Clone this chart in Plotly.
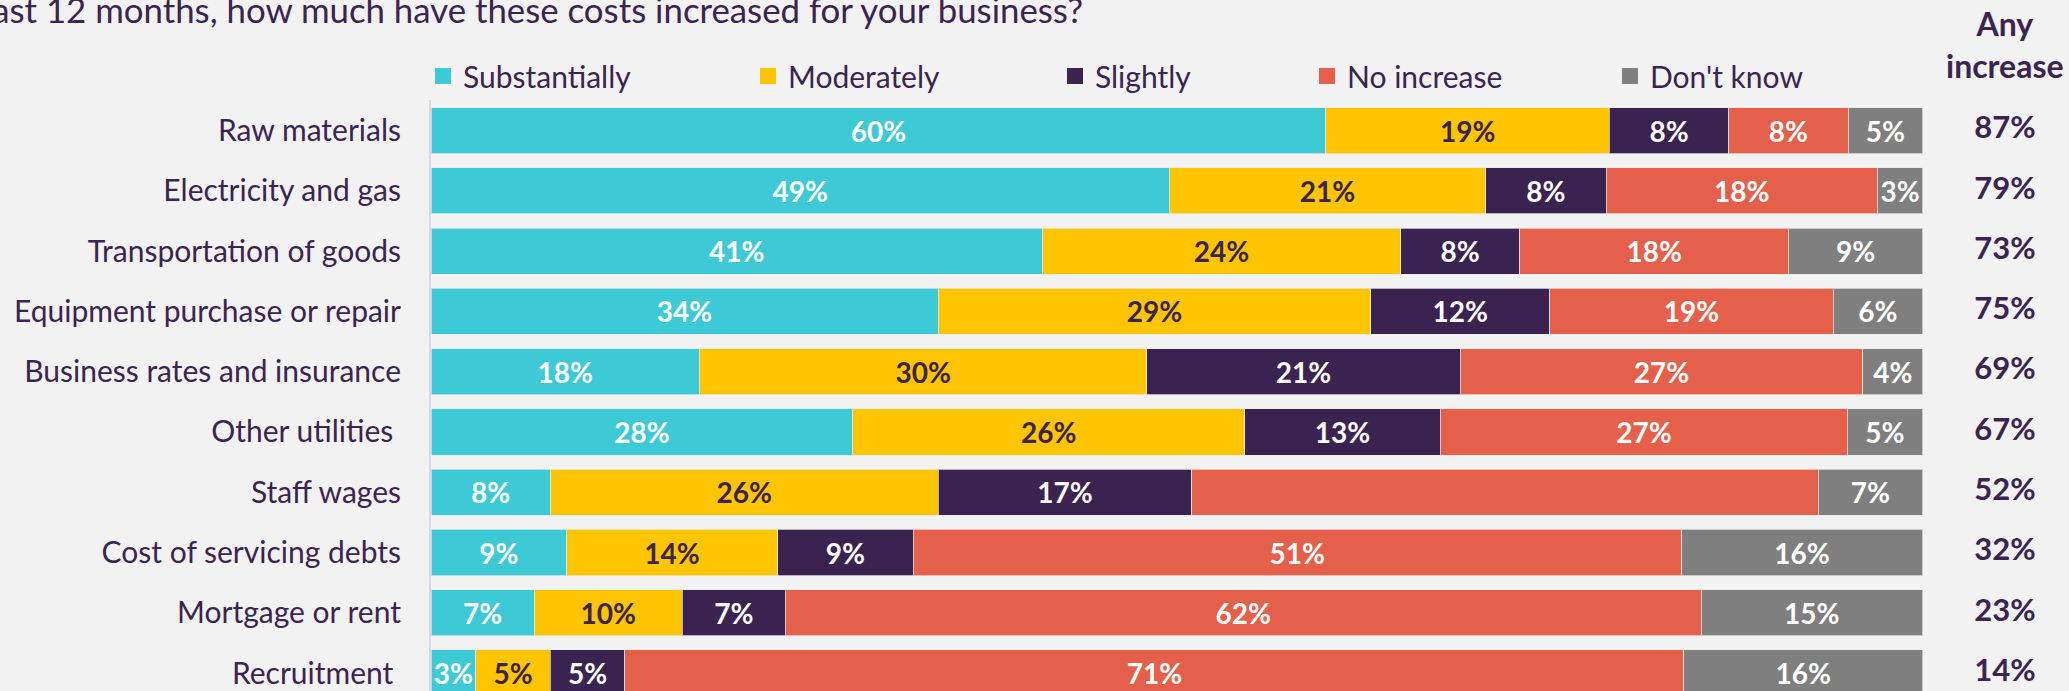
import plotly.graph_objects as go

# ---------------- data ----------------
categories = ["Raw materials", "Electricity and gas", "Transportation of goods",
              "Equipment purchase or repair", "Business rates and insurance",
              "Other utilities\u00a0", "Staff wages", "Cost of servicing debts",
              "Mortgage or rent", "Recruitment\u00a0"]
substantially = [60, 49, 41, 34, 18, 28, 8, 9, 7, 3]
moderately = [19, 21, 24, 29, 30, 26, 26, 14, 10, 5]
slightly = [8, 8, 8, 12, 21, 13, 17, 9, 7, 5]
no_increase = [8, 18, 18, 19, 27, 27, 42, 51, 62, 71]
dont_know = [5, 3, 9, 6, 4, 5, 7, 16, 15, 16]
any_increase = [87, 79, 73, 75, 69, 67, 52, 32, 23, 14]
series_names = ["Substantially", "Moderately", "Slightly", "No increase", "Don't know"]
unlabelled = {("No increase", "Staff wages")}  # segment shown without a value label
title_text = "In the last 12 months, how much have these costs increased for your business?"

# ---------------- style ----------------
FONT = "Lato"
PURPLE_TXT = "#3b2450"
BG = "#f2f2f2"
colors = ["#3ec9d6", "#ffc500", "#3a2350", "#e5604a", "#7f7f7f"]
label_colors = ["white", PURPLE_TXT, "white", "white", "white"]

W, H = 2069, 691
ML, MT = 431, 100
PLOT_W, PLOT_H = W - ML, H - MT
X_FULL_PX = 1922.6 - ML          # pixel width of a 100% bar
X_MAX = PLOT_W / X_FULL_PX * 100
ANY_X = (2005 - ML) / X_FULL_PX * 100
Y_RANGE = [9.298, -0.508]

series = [substantially, moderately, slightly, no_increase, dont_know]
totals = [sum(s[i] for s in series) for i in range(len(categories))]

fig = go.Figure()
for name, vals, col, tcol in zip(series_names, series, colors, label_colors):
    share = [v / t * 100 for v, t in zip(vals, totals)]
    texts = ["" if (name, c) in unlabelled else f"{v}%" for v, c in zip(vals, categories)]
    fig.add_trace(go.Bar(
        y=categories, x=share, orientation="h", name=name,
        marker=dict(color=col, line=dict(color="rgba(235,235,235,0.7)", width=1)),
        width=0.765, text=texts, textposition="inside", insidetextanchor="middle",
        textangle=0, constraintext="none", cliponaxis=False,
        textfont=dict(family=FONT, size=28, color=tcol, weight="bold"),
        showlegend=False, hoverinfo="skip",
    ))

# any-increase column
fig.add_trace(go.Scatter(
    y=categories, x=[ANY_X] * len(categories), mode="text",
    text=[f"{v}%" for v in any_increase], cliponaxis=False,
    textfont=dict(family=FONT, size=31, color=PURPLE_TXT, weight="bold"),
    showlegend=False, hoverinfo="skip",
))

# legend entries (one legend each, to place them like the original)
legend_centers_px = [443, 768, 1075, 1327, 1630]
layout_legends = {}
for i, (name, col, cx) in enumerate(zip(series_names, colors, legend_centers_px)):
    key = "legend" if i == 0 else f"legend{i+1}"
    fig.add_trace(go.Scatter(x=[None], y=[None], mode="markers", name=name,
                             marker=dict(symbol="square", size=18, color=col),
                             legend=key, showlegend=True))
    layout_legends[key] = dict(
        x=(cx - 20 - ML) / PLOT_W, xanchor="left",
        y=1 + (MT - 76) / PLOT_H, yanchor="middle",
        bgcolor="rgba(0,0,0,0)", borderwidth=0,
        font=dict(family=FONT, size=30, color=PURPLE_TXT),
    )

fig.update_layout(
    width=W, height=H,
    margin=dict(l=ML, r=0, t=MT, b=0, pad=0),
    paper_bgcolor=BG, plot_bgcolor=BG,
    barmode="stack",
    font=dict(family=FONT, color=PURPLE_TXT),
    xaxis=dict(range=[0, X_MAX], visible=False, fixedrange=True),
    yaxis=dict(range=Y_RANGE, showgrid=False, zeroline=False,
               showline=True, linecolor="#ddd5ea", linewidth=2,
               ticks="", ticklabelstandoff=22,
               tickfont=dict(family=FONT, size=30, color=PURPLE_TXT)),
    annotations=[
        dict(text=title_text, xref="paper", yref="paper",
             x=(1085 - ML) / PLOT_W, xanchor="right",
             y=1 + (MT - 9.5) / PLOT_H, yanchor="middle", showarrow=False,
             font=dict(family=FONT, size=34.8, color=PURPLE_TXT)),
        dict(text="<b>Any</b><br><b>increase</b>", xref="x", yref="paper",
             x=ANY_X, xanchor="center", y=1 + (MT - 45) / PLOT_H, yanchor="middle",
             showarrow=False, align="center",
             font=dict(family=FONT, size=32, color=PURPLE_TXT)),
    ],
    **layout_legends,
)

fig.write_html("out.html")
